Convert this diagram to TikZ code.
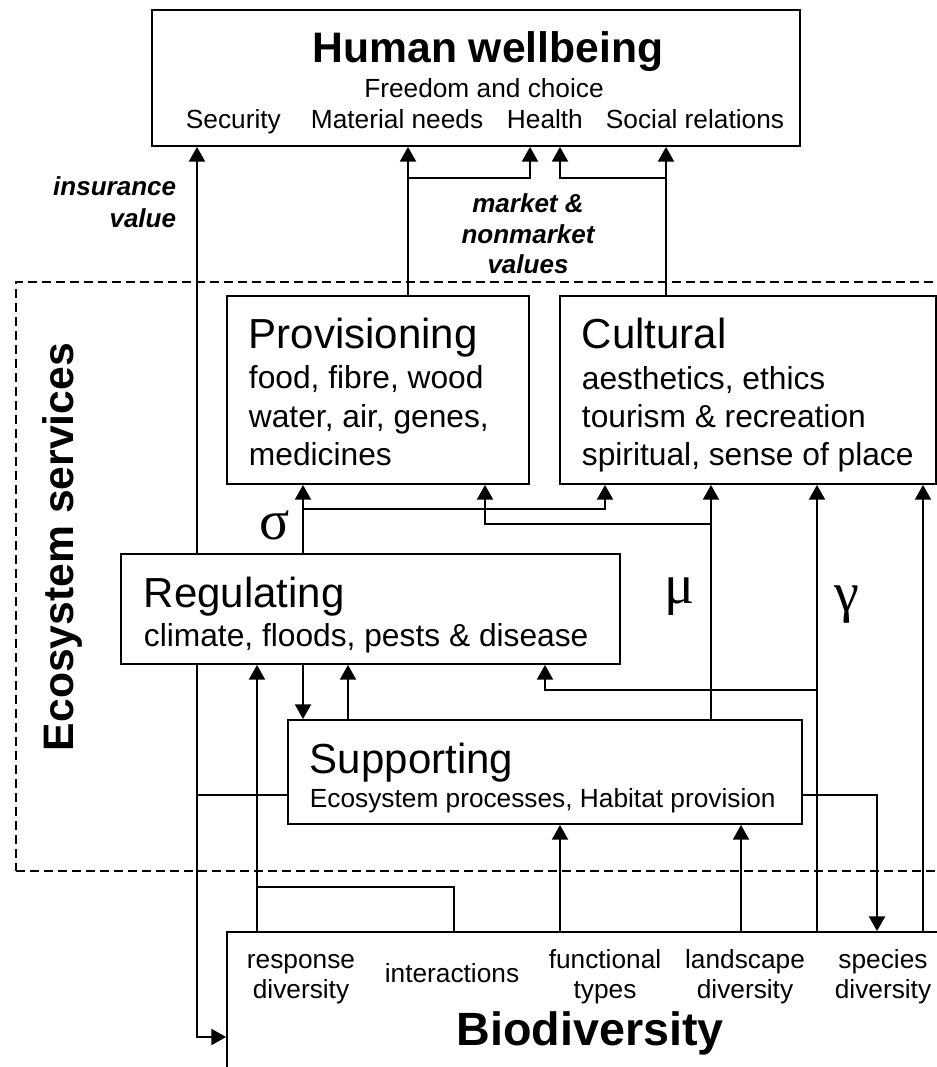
\documentclass[tikz,border=0pt]{standalone}
\usepackage{fontspec}
\setmainfont{Liberation Sans}
\newfontfamily\greekfont{Liberation Serif}
\usetikzlibrary{fit,arrows.meta}

\begin{document}
\begin{tikzpicture}[
  x=0.75pt, y=-0.75pt,
  line width=1.4pt,
  box/.style={draw, rectangle, inner sep=0pt, line width=1.4pt},
  esbox/.style={draw, rectangle, inner sep=0pt, line width=1pt, dash pattern=on 6.75pt off 3.75pt},
  arr/.style={-{Triangle[length=11pt,width=12pt]}, line width=1.4pt},
  head/.style={anchor=base, inner sep=0pt, font=\fontsize{32}{38}\selectfont\bfseries},
  title/.style={anchor=base west, inner sep=0pt, font=\fontsize{31.5}{36}\selectfont},
  item/.style={anchor=base west, inner sep=0pt, font=\fontsize{23.8}{28}\selectfont},
  small/.style={anchor=base, inner sep=0pt, font=\fontsize{19.7}{24}\selectfont},
  note/.style={anchor=base, inner sep=0pt, font=\fontsize{19.5}{24}\selectfont\bfseries\itshape},
  greek/.style={inner sep=0pt, font=\fontsize{42}{48}\selectfont\greekfont}
]
\useasboundingbox (0,0) rectangle (937,1067);

% ecosystem services frame
\node[esbox, fit={(16,282) (950,871)}] (es) {};
\node[head, rotate=90] (est) at (73,547) {Ecosystem services};

% boxes
\node[box, fit={(152,10) (800,146)}] (hw) {};
\node[box, fit={(227,296) (529,484)}] (prov) {};
\node[box, fit={(560,296) (936,484)}] (cult) {};
\node[box, fit={(121,554) (620,664)}] (reg) {};
\node[box, fit={(288,720) (802,824)}] (sup) {};
\node[box, fit={(227,932) (1000,1120)}] (bio) {};

% human wellbeing
\node[head] (hwt) at (488,62) {Human wellbeing};
\node[small] (free) at (484,97) {Freedom and choice};
\foreach \x/\t/\n in {185/Security/secu, 310/Material needs/matn, 506/Health/hlth, 605/Social relations/socr}
  \node[small, anchor=base west] (\n) at (\x,128) {\t};

% services
\node[title] (provt) at (248,348) {Provisioning};
\foreach \y/\t [count=\i] in {388/{food, fibre, wood}, 427/{water, air, genes,}, 465/medicines}
  \node[item] (prov\i) at (248,\y) {\t};
\node[title] (cultt) at (581,348) {Cultural};
\foreach \y/\t [count=\i] in {389/{aesthetics, ethics}, 427/tourism \& recreation, 465/{spiritual, sense of place}}
  \node[item] (cult\i) at (581,\y) {\t};
\node[title] (regt) at (143,607) {Regulating};
\node[item] (reg1) at (143,646) {climate, floods, pests \& disease};
\node[title] (supt) at (309,773) {Supporting};
\node[small, anchor=base west] (sup1) at (309,807) {Ecosystem processes, Habitat provision};

% biodiversity
\foreach \x/\a/\b/\n in {301/response/diversity/resp, 605/functional/types/func, 745/landscape/diversity/land, 883/species/diversity/spec} {
  \node[small] (\n1) at (\x,968) {\a};
  \node[small] (\n2) at (\x,998) {\b};
}
\node[small] (inter) at (452,982) {interactions};
\node[head, font=\fontsize{35}{40}\selectfont\bfseries] (biot) at (590,1045) {Biodiversity};

% value labels
\node[note, anchor=base east] (ins1) at (177,195) {insurance};
\node[note, anchor=base east] (ins2) at (177,227) {value};
\node[note] (mkt1) at (528,212) {market \&};
\node[note] (mkt2) at (528,243) {nonmarket};
\node[note] (mkt3) at (528,273) {values};
\node[greek] (sigma) at (275,525) {σ};
\node[greek] (mu) at (680,597) {μ};
\node[greek] (gamma) at (847,605) {γ};

% junctions
\coordinate (jmat) at (408,178);
\coordinate (jsoc) at (666,178);
\coordinate (jsig) at (303,509);
\coordinate (jmu) at (711,524);
\coordinate (jgam) at (817,690);
\coordinate (jins) at (197,795);
\coordinate (jres) at (257,887);

% to human wellbeing
\draw[arr] (reg.north -| 197,0) -- (hw.south -| 197,0);
\draw[arr] (prov.north -| 408,0) -- (hw.south -| 408,0);
\draw[arr] (jmat) -| (hw.south -| 530,0);
\draw[arr] (cult.north -| 666,0) -- (hw.south -| 666,0);
\draw[arr] (jsoc) -| (hw.south -| 560,0);

% between services
\draw[arr] (reg.north -| 303,0) -- (prov.south -| 303,0);
\draw[arr] (jsig) -| (cult.south -| 605,0);
\draw[arr] (sup.north -| 711,0) -- (cult.south -| 711,0);
\draw[arr] (jmu) -| (prov.south -| 485,0);
\draw[arr] (reg.south -| 303,0) -- (sup.north -| 303,0);
\draw[arr] (sup.north -| 348,0) -- (reg.south -| 348,0);

% biodiversity links
\draw[arr] (bio.north -| 817,0) -- (cult.south -| 817,0);
\draw[arr] (jgam) -| (reg.south -| 545,0);
\draw[arr] (bio.north -| 923,0) -- (cult.south -| 923,0);
\draw[arr] (reg.south -| 197,0) |- (bio.west |- 0,1037);
\draw (sup.west |- jins) -- (jins);
\draw[arr] (bio.north -| 257,0) -- (reg.south -| 257,0);
\draw (bio.north -| 454,0) |- (jres);
\draw[arr] (bio.north -| 560,0) -- (sup.south -| 560,0);
\draw[arr] (bio.north -| 741,0) -- (sup.south -| 741,0);
\draw[arr] (sup.east |- jins) -| (bio.north -| 877,0);

\end{tikzpicture}
\end{document}
